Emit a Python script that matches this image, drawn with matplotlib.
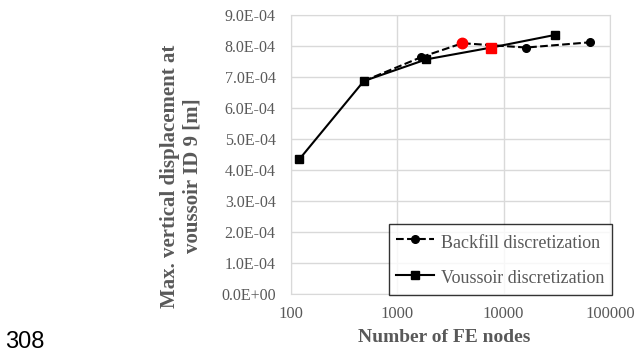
import matplotlib
matplotlib.use("Agg")
import matplotlib.pyplot as plt
from matplotlib.ticker import FuncFormatter, FixedLocator

plt.rcParams['font.family'] = ['Liberation Serif', 'DejaVu Serif']

# Data
vous_nodes = [120, 484, 1880, 7650, 30700]
vous_disp = [4.35e-4, 6.87e-4, 7.57e-4, 7.95e-4, 8.36e-4]
vous_red_idx = 3

back_nodes = [484, 1675, 4090, 16300, 65200]
back_disp = [6.87e-4, 7.64e-4, 8.09e-4, 7.95e-4, 8.12e-4]
back_red_idx = 2

x_ticks = [100, 1000, 10000, 100000]
x_ticklabels = ["100", "1000", "10000", "100000"]
y_ticks = [i * 1e-4 for i in range(10)]

W, H = 640, 353
fig = plt.figure(figsize=(6.4, 3.53), dpi=100)
ax = fig.add_axes([291 / W, 1 - 294 / H, (610 - 291) / W, (294 - 15) / H])

gray = '#595959'
gridc = '#D9D9D9'

ax.plot(back_nodes[1:], back_disp[1:], linestyle='--', color='black', lw=1.5,
        marker='o', markersize=5.5, label='Backfill discretization', zorder=3)
ax.plot(back_nodes[:2], back_disp[:2], linestyle='--', color='black', lw=1.5, zorder=3)
ax.plot(vous_nodes, vous_disp, linestyle='-', color='black', lw=1.5,
        marker='s', markersize=6, label='Voussoir discretization', zorder=4)
ax.plot([back_nodes[back_red_idx]], [back_disp[back_red_idx]], 'o', color='red',
        markersize=7.5, zorder=5)
ax.plot([vous_nodes[vous_red_idx]], [vous_disp[vous_red_idx]], 's', color='red',
        markersize=7.5, zorder=5)

ax.set_xscale('log')
ax.set_xlim(100, 100000)
ax.set_ylim(0, 9e-4)
ax.xaxis.set_major_locator(FixedLocator(x_ticks))
ax.set_xticklabels(x_ticklabels)
ax.xaxis.set_minor_locator(FixedLocator([]))
ax.set_yticks(y_ticks)
ax.yaxis.set_major_formatter(FuncFormatter(lambda v, p: "%.1E" % v))

ax.grid(True, color=gridc, lw=1)
ax.set_axisbelow(True)
for s in ax.spines.values():
    s.set_color(gridc)
ax.tick_params(axis='y', length=0, labelsize=11.5, colors=gray, pad=11)
ax.tick_params(axis='x', length=0, labelsize=12, colors=gray, pad=9)

fig.text(444 / W, 1 - 342 / H, 'Number of FE nodes', fontsize=14, fontweight='bold',
         color=gray, ha='center', va='baseline')
fig.text(181 / W, 1 - 176 / H, 'Max. vertical displacement at\nvoussoir ID 9 [m]',
         fontsize=15, fontweight='bold', color=gray, ha='center', va='center',
         rotation=90, linespacing=1.2)

leg = fig.legend(*ax.get_legend_handles_labels(), loc='lower right',
                 bbox_to_anchor=(612 / W, 1 - 295 / H), fontsize=13,
                 frameon=True, fancybox=False, edgecolor='black', handlelength=2.1,
                 handleheight=1.4, labelspacing=0.83, borderpad=0.4,
                 handletextpad=0.4, borderaxespad=0)
leg.get_frame().set_linewidth(1.0)
for t in leg.get_texts():
    t.set_color(gray)

fig.text(5 / W, 0.5 / H, '308', fontsize=17, color='black', va='bottom', ha='left',
         family=['Liberation Sans', 'DejaVu Sans'])

fig.savefig('out.png', dpi=100)
